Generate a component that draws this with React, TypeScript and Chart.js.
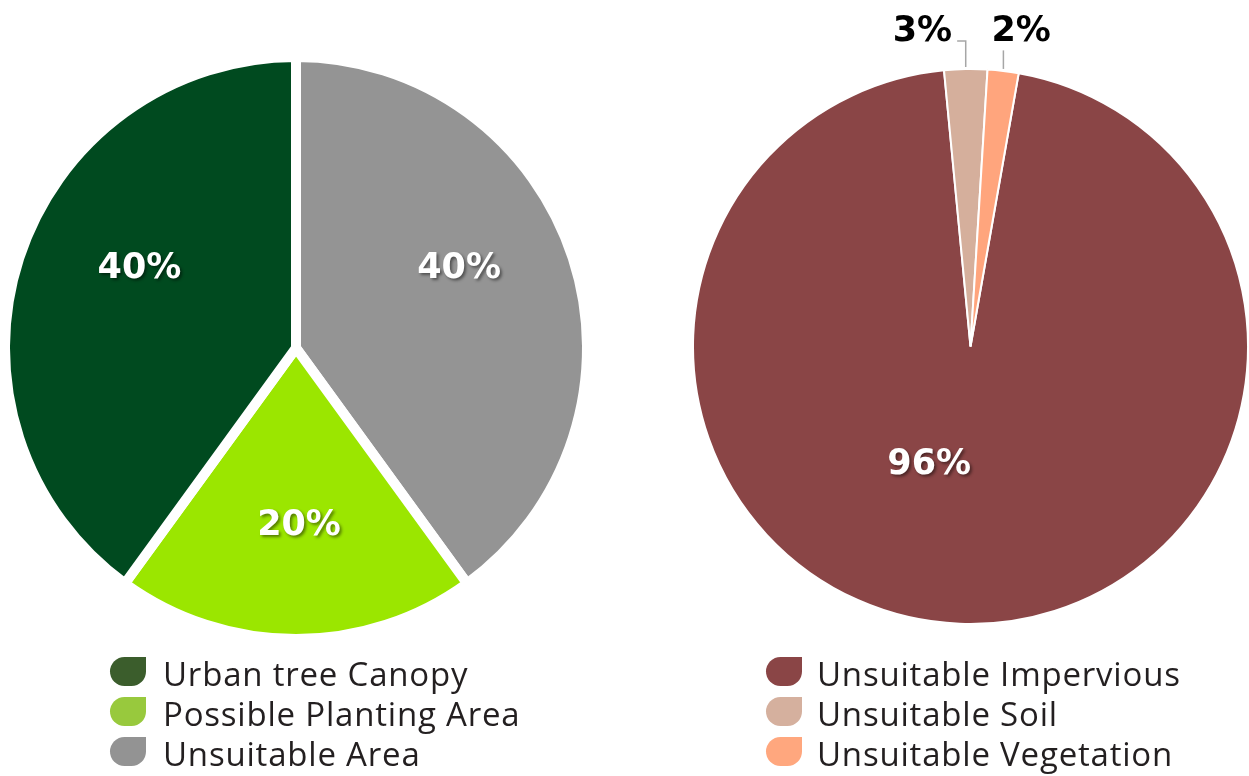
import React, { useEffect, useRef } from "react";
import { Chart, registerables } from "chart.js";

Chart.register(...registerables);

// ---- Data ----
const canopyLabels = ["Urban tree Canopy", "Possible Planting Area", "Unsuitable Area"];
const canopyValues = [40, 20, 40];
const canopyColors = ["#004A1F", "#9BE600", "#949494"];
const canopyLegendColors = ["#3B5D2C", "#98C93D", "#939393"];

const landLabels = ["Unsuitable Impervious", "Unsuitable Soil", "Unsuitable Vegetation"];
const landValues = [95.7, 2.5, 1.8];
const landColors = ["#8A4546", "#D5AF9C", "#FFA57D"];
const landLegendColors = ["#8A4546", "#D5B09E", "#FFA77E"];

type Placement = { shift: number; dist: number; outside?: boolean };

type PieProps = {
  labels: string[];
  values: number[];
  colors: string[];
  legendColors: string[];
  reverse: boolean;
  rotation: number;
  radius: number;
  borderWidth: number;
  placement: Placement[];
  left: number;
  w: number;
  h: number;
  padding: { left: number; right: number; top: number; bottom: number };
  legendIconX: number;
  legendTextX: number;
  legendBaseline: number;
  legendRowGap: number;
};

const LABEL_FONT_SIZE = 35;
const LABEL_FONT = `bold ${LABEL_FONT_SIZE}px 'DejaVu Sans'`;
const LEGEND_FONT = "33px 'Open Sans'";

function PieCanvas(p: PieProps) {
  const ref = useRef<HTMLCanvasElement | null>(null);

  useEffect(() => {
    if (!ref.current) return;
    const idx = p.labels.map((_, i) => i);
    const order = p.reverse ? [...idx].reverse() : idx;
    const total = p.values.reduce((a, b) => a + b, 0);

    const sliceLabels = {
      id: "sliceLabels",
      afterDatasetsDraw(chart: any) {
        const ctx: CanvasRenderingContext2D = chart.ctx;
        const meta = chart.getDatasetMeta(0);
        meta.data.forEach((arc: any, k: number) => {
          const i = order[k];
          const pl = p.placement[i];
          const { x, y, startAngle, endAngle, outerRadius } = arc.getProps(
            ["x", "y", "startAngle", "endAngle", "outerRadius"],
            true
          );
          const r = outerRadius - p.borderWidth / 2;
          const mid = (startAngle + endAngle) / 2;
          const ang = mid + (pl.shift * Math.PI) / 180;
          const lx = x + Math.cos(ang) * r * pl.dist;
          const ly = y + Math.sin(ang) * r * pl.dist;
          const text = Math.round((p.values[i] / total) * 100) + "%";
          ctx.save();
          ctx.font = LABEL_FONT;
          ctx.textAlign = "center";
          ctx.textBaseline = "alphabetic";
          const tw = ctx.measureText(text).width;
          const base = ly + (LABEL_FONT_SIZE * 0.729) / 2;
          if (pl.outside) {
            const ax = x + Math.cos(mid) * (r + 3);
            const ay = y + Math.sin(mid) * (r + 3);
            ctx.strokeStyle = "#A6A6A6";
            ctx.lineWidth = 1.5;
            ctx.beginPath();
            if (ax >= lx - tw / 2 && ax <= lx + tw / 2) {
              ctx.moveTo(ax, ay);
              ctx.lineTo(ax, ly + 22);
            } else {
              const ey = ly + 13;
              ctx.moveTo(ax, ay);
              ctx.lineTo(ax, ey);
              const ex = ax > lx ? lx + tw / 2 + 5 : lx - tw / 2 - 5;
              ctx.lineTo(ex, ey);
            }
            ctx.stroke();
            ctx.fillStyle = "#000000";
            ctx.fillText(text, lx, base);
          } else {
            ctx.shadowColor = "rgba(0,0,0,0.45)";
            ctx.shadowOffsetX = 2;
            ctx.shadowOffsetY = 2;
            ctx.shadowBlur = 3;
            ctx.fillStyle = "#ffffff";
            ctx.fillText(text, lx, base);
          }
          ctx.restore();
        });
      },
    };

    const leafLegend = {
      id: "leafLegend",
      afterDraw(chart: any) {
        const ctx: CanvasRenderingContext2D = chart.ctx;
        ctx.save();
        p.labels.forEach((lab, i) => {
          const base = p.legendBaseline + i * p.legendRowGap;
          ctx.fillStyle = p.legendColors[i];
          ctx.beginPath();
          (ctx as any).roundRect(p.legendIconX, base - 29, 36, 29, [15, 0, 15, 15]);
          ctx.fill();
          ctx.font = LEGEND_FONT;
          (ctx as any).letterSpacing = "0.8px";
          ctx.fillStyle = "#231F20";
          ctx.textAlign = "left";
          ctx.textBaseline = "alphabetic";
          ctx.fillText(lab, p.legendTextX, base);
          (ctx as any).letterSpacing = "0px";
        });
        ctx.restore();
      },
    };

    const chart = new Chart(ref.current, {
      type: "pie",
      data: {
        labels: order.map((i) => p.labels[i]),
        datasets: [
          {
            data: order.map((i) => p.values[i]),
            backgroundColor: order.map((i) => p.colors[i]),
            borderColor: "#ffffff",
            borderWidth: p.borderWidth,
          },
        ],
      },
      options: {
        responsive: false,
        animation: false,
        events: [],
        rotation: p.rotation,
        radius: p.radius,
        layout: { padding: p.padding },
        plugins: {
          legend: { display: false },
          tooltip: { enabled: false },
        },
      } as any,
      plugins: [sliceLabels, leafLegend],
    });
    return () => chart.destroy();
  }, []);

  return (
    <canvas
      ref={ref}
      width={p.w}
      height={p.h}
      style={{ position: "absolute", left: p.left, top: 0, width: p.w, height: p.h }}
    />
  );
}

export default function App() {
  return (
    <div style={{ position: "absolute", left: 0, top: 0, width: 1249, height: 776, background: "#fff", overflow: "hidden" }}>
      <PieCanvas
        labels={canopyLabels}
        values={canopyValues}
        colors={canopyColors}
        legendColors={canopyLegendColors}
        reverse={true}
        rotation={0}
        radius={291}
        borderWidth={10}
        placement={[
          { shift: 10, dist: 0.62 },
          { shift: -1, dist: 0.61 },
          { shift: -9, dist: 0.64 },
        ]}
        left={0}
        w={600}
        h={776}
        padding={{ left: 0, right: 8, top: 0, bottom: 80 }}
        legendIconX={110}
        legendTextX={163}
        legendBaseline={686}
        legendRowGap={40}
      />
      <PieCanvas
        labels={landLabels}
        values={landValues}
        colors={landColors}
        legendColors={landLegendColors}
        reverse={false}
        rotation={10}
        radius={277.5}
        borderWidth={2}
        placement={[
          { shift: 17.6, dist: 0.44 },
          { shift: -7.6, dist: 1.165, outside: true },
          { shift: 2.3, dist: 1.165, outside: true },
        ]}
        left={692}
        w={557}
        h={776}
        padding={{ left: 0, right: 0, top: 0, bottom: 83 }}
        legendIconX={74}
        legendTextX={125}
        legendBaseline={686}
        legendRowGap={40}
      />
    </div>
  );
}
